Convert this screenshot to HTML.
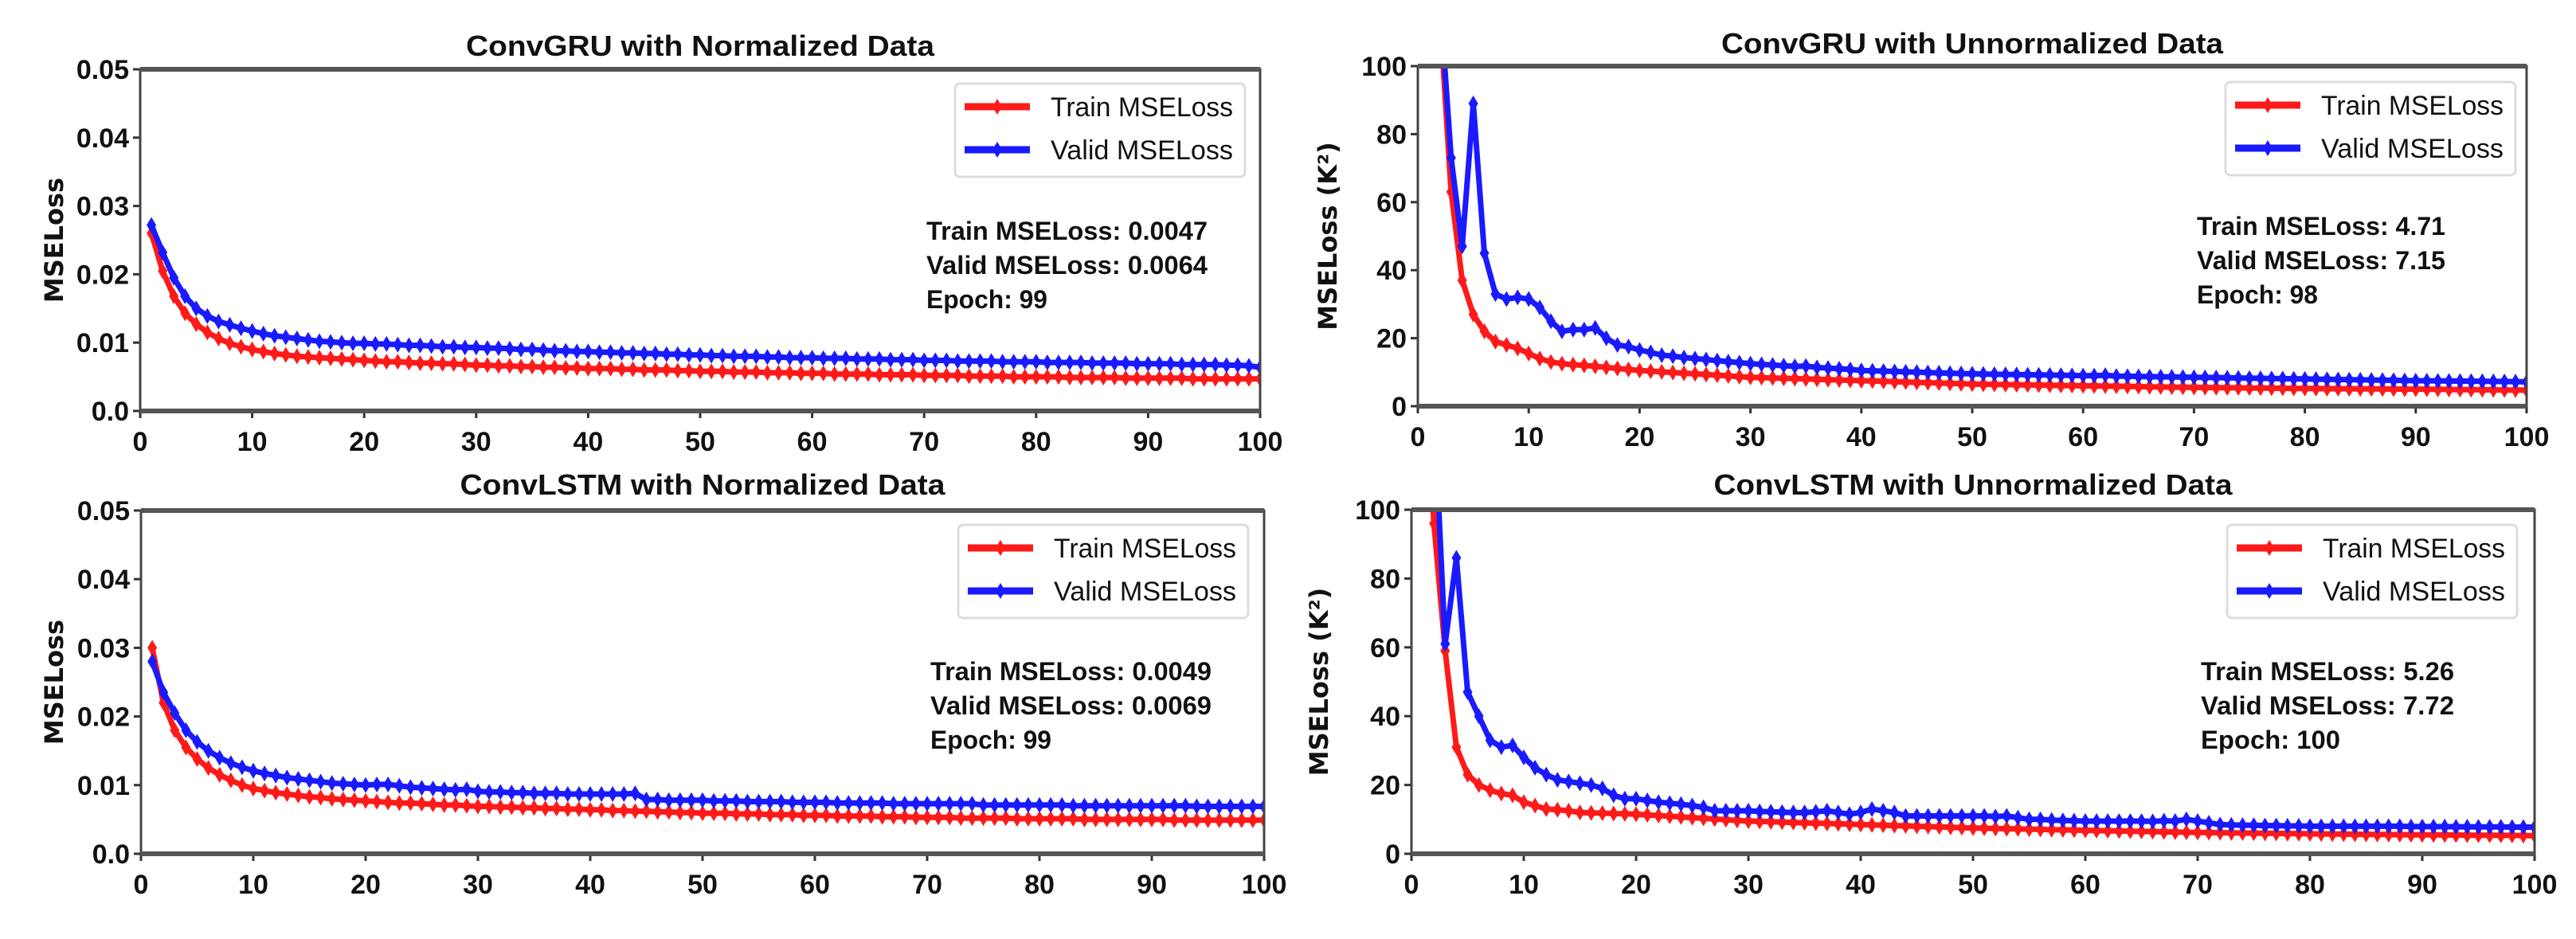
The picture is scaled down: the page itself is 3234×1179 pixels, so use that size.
<!DOCTYPE html>
<html><head><meta charset="utf-8"><style>
html,body{margin:0;padding:0;background:#fff;}
svg{display:block;}
text{font-family:"Liberation Sans",sans-serif;fill:#111;}
</style></head>
<body>
<svg id="fig" width="3234" height="1179" viewBox="0 0 3234 1179" xmlns="http://www.w3.org/2000/svg"></svg>
<script>
const xTicks = [0,10,20,30,40,50,60,70,80,90,100];
const yTicksNorm = [0.0,0.01,0.02,0.03,0.04,0.05];
const yTickLabelsNorm = ["0.0","0.01","0.02","0.03","0.04","0.05"];
const yTicksUn = [0,20,40,60,80,100];
const yTickLabelsUn = ["0","20","40","60","80","100"];

const gruNormTrain = [0.026,0.0205,0.0168,0.0143,0.0127,0.0115,0.0106,0.0099,0.0094,0.0090,
0.0087,0.0084,0.0082,0.0080,0.0079,0.0078,0.0077,0.0076,0.0075,0.0074,
0.0073,0.0072,0.0072,0.0071,0.0070,0.0070,0.0069,0.0069,0.0068,0.0067,
0.0067,0.0066,0.0066,0.0065,0.0065,0.0064,0.0064,0.0063,0.0063,0.0062,
0.0062,0.0062,0.0061,0.0061,0.0060,0.0060,0.0060,0.0059,0.0059,0.0058,
0.0058,0.0058,0.0057,0.0057,0.0057,0.0056,0.0056,0.0056,0.0055,0.0055,
0.0055,0.0054,0.0054,0.0054,0.0054,0.0053,0.0053,0.0053,0.0053,0.0052,
0.0052,0.0052,0.0052,0.0051,0.0051,0.0051,0.0051,0.0050,0.0050,0.0050,
0.0050,0.0050,0.0049,0.0049,0.0049,0.0049,0.0049,0.0048,0.0048,0.0048,
0.0048,0.0048,0.0048,0.0047,0.0047,0.0047,0.0047,0.0047,0.0047,0.0047];
const gruNormValid = [0.0272,0.0232,0.0195,0.0168,0.0150,0.0139,0.0131,0.0126,0.0121,0.0117,
0.0113,0.0110,0.0108,0.0106,0.0104,0.0102,0.0101,0.0100,0.0099,0.0099,
0.0098,0.0098,0.0097,0.0096,0.0096,0.0095,0.0094,0.0094,0.0093,0.0093,
0.0092,0.0092,0.0091,0.0090,0.0090,0.0089,0.0088,0.0088,0.0087,0.0087,
0.0086,0.0086,0.0085,0.0085,0.0084,0.0084,0.0083,0.0083,0.0082,0.0082,
0.0081,0.0081,0.0080,0.0080,0.0080,0.0079,0.0079,0.0078,0.0078,0.0078,
0.0077,0.0077,0.0077,0.0076,0.0076,0.0076,0.0075,0.0075,0.0075,0.0074,
0.0074,0.0074,0.0073,0.0073,0.0073,0.0073,0.0072,0.0072,0.0072,0.0072,
0.0071,0.0071,0.0071,0.0071,0.0070,0.0070,0.0070,0.0070,0.0069,0.0069,
0.0069,0.0069,0.0068,0.0068,0.0068,0.0068,0.0067,0.0067,0.0066,0.0064];
const gruUnTrain = [250,115,63,37,27,22,19,18,17,15.5,
14,13,12.5,12.2,12,11.7,11.4,11.1,10.8,10.5,
10.3,10.1,9.9,9.7,9.5,9.3,9.1,8.9,8.7,8.5,
8.4,8.3,8.2,8.1,8.0,7.9,7.8,7.7,7.6,7.5,
7.4,7.3,7.2,7.1,7.0,6.9,6.8,6.7,6.6,6.5,
6.45,6.4,6.35,6.3,6.25,6.2,6.15,6.1,6.05,6.0,
5.95,5.9,5.85,5.8,5.75,5.7,5.65,5.6,5.55,5.5,
5.47,5.44,5.41,5.38,5.35,5.32,5.29,5.26,5.23,5.2,
5.18,5.16,5.14,5.12,5.1,5.08,5.06,5.04,5.02,5.0,
4.97,4.94,4.91,4.88,4.85,4.82,4.79,4.76,4.73,4.71];
const gruUnValid = [250,120,73,47,89,45,33,31.5,32,31.5,
29,25,22,22.5,22.5,23,20,18,17.5,16.5,
15.8,15,14.7,14.3,14,13.7,13.4,13.1,12.8,12.5,
12.3,12.1,11.9,11.7,11.8,11.4,11.2,11,10.8,10.5,
10.4,10.3,10.2,10.1,10,9.9,9.8,9.7,9.6,9.5,
9.45,9.4,9.35,9.3,9.25,9.2,9.15,9.1,9.05,9.0,
8.95,9.1,8.85,8.8,8.75,8.7,8.65,8.6,8.55,8.5,
8.45,8.4,8.35,8.3,8.25,8.2,8.15,8.1,8.05,8.0,
7.95,7.9,7.85,7.8,7.75,7.7,7.65,7.6,7.55,7.5,
7.47,7.44,7.41,7.38,7.35,7.32,7.29,7.26,7.2,7.15];
const lstmNormTrain = [0.030,0.022,0.018,0.0155,0.0138,0.0125,0.0115,0.0107,0.0100,0.0095,
0.0092,0.0089,0.0087,0.0085,0.0083,0.0082,0.0080,0.0079,0.0078,0.0077,
0.0076,0.0075,0.0074,0.0074,0.0073,0.0072,0.0071,0.0071,0.0070,0.0069,
0.0069,0.0068,0.0068,0.0067,0.0067,0.0066,0.0066,0.0065,0.0065,0.0064,
0.0064,0.0063,0.0063,0.0062,0.0062,0.0061,0.0061,0.0060,0.0060,0.0059,
0.0059,0.0059,0.0058,0.0058,0.0058,0.0057,0.0057,0.0057,0.0056,0.0056,
0.0056,0.0055,0.0055,0.0055,0.0055,0.0054,0.0054,0.0054,0.0053,0.0053,
0.0053,0.0053,0.0052,0.0052,0.0052,0.0052,0.0052,0.0051,0.0051,0.0051,
0.0051,0.0051,0.0051,0.0050,0.0050,0.0050,0.0050,0.0050,0.0050,0.0050,
0.0050,0.0049,0.0049,0.0049,0.0049,0.0049,0.0049,0.0049,0.0049,0.0049];
const lstmNormValid = [0.028,0.0235,0.0205,0.018,0.0163,0.015,0.014,0.0132,0.0126,0.0121,
0.0117,0.0114,0.0111,0.0109,0.0107,0.0105,0.0103,0.0102,0.0101,0.0100,
0.0101,0.0101,0.0099,0.0097,0.0096,0.0095,0.0094,0.0093,0.0094,0.0091,
0.0090,0.0090,0.0089,0.0089,0.0088,0.0088,0.0088,0.0087,0.0087,0.0087,
0.0087,0.0087,0.0087,0.0088,0.0079,0.0079,0.0078,0.0078,0.0078,0.0078,
0.0077,0.0077,0.0077,0.0076,0.0076,0.0076,0.0076,0.0075,0.0075,0.0075,
0.0075,0.0074,0.0074,0.0074,0.0074,0.0074,0.0073,0.0073,0.0073,0.0073,
0.0073,0.0073,0.0073,0.0073,0.0071,0.0071,0.0071,0.0071,0.0071,0.0071,
0.0071,0.0071,0.0070,0.0070,0.0070,0.0070,0.0070,0.0070,0.0070,0.0070,
0.0070,0.0070,0.0070,0.0069,0.0069,0.0069,0.0069,0.0069,0.0069,0.0069];
const lstmUnTrain = [150,96,59,31,23,20,18.5,17.5,17,15,
14,13,12.8,12.5,12,11.9,11.8,11.7,11.6,11.5,
11.3,11.1,10.9,10.7,10.5,10.3,10.1,9.9,9.7,9.5,
9.4,9.3,9.2,9.1,9,8.9,8.8,8.7,8.6,8.5,
8.4,8.3,8.2,8.1,8,7.9,7.8,7.7,7.6,7.5,
7.43,7.36,7.29,7.22,7.15,7.08,7.01,6.94,6.87,6.8,
6.74,6.68,6.62,6.56,6.5,6.44,6.38,6.32,6.26,6.2,
6.16,6.12,6.08,6.04,6,5.96,5.92,5.88,5.84,5.8,
5.77,5.74,5.71,5.68,5.65,5.62,5.59,5.56,5.53,5.5,
5.48,5.46,5.44,5.42,5.4,5.38,5.35,5.32,5.29,5.26];
const lstmUnValid = [150,130,61,86,47,40,33,31,31.5,28,
25,23,21.5,21,20.5,20,19,17,16,16,
15.5,15,14.7,14.4,14,13.5,12.5,12.5,12.5,12.5,
12.3,12.2,12.1,12,12,12.2,12.5,12,11.5,12,
13,12.5,12,11,11,11,11,11,11,11,
11,10.8,11,10.5,10,10,9.8,9.7,9.6,9.5,
9.5,9.5,9.5,9.5,9.5,9.4,9.6,9.5,10,9.5,
9,8.5,8.4,8.3,8.3,8.2,8.2,8.1,8.1,8,
8,8,8,8,8,8,8,8,7.9,7.9,
7.9,7.9,7.85,7.85,7.8,7.8,7.8,7.75,7.75,7.72];

const panels = [
 {id:"gru-norm", title:"ConvGRU with Normalized Data", x0:176,x1:1582,yT:87,yB:516, yMax:0.05, yt:yTicksNorm, yl:yTickLabelsNorm, train:gruNormTrain, valid:gruNormValid, ylab:"MSELoss", ylx:68, lx:1199,ly:105, ax:1163, ay:289, ann:["Train MSELoss: 0.0047","Valid MSELoss: 0.0064","Epoch: 99"], annW:[353,353,152], tY:70},
 {id:"gru-unnorm", title:"ConvGRU with Unnormalized Data", x0:1780,x1:3172,yT:83,yB:510, yMax:100, yt:yTicksUn, yl:yTickLabelsUn, train:gruUnTrain, valid:gruUnValid, ylab:"MSELoss (K²)", ylx:1667, lx:2794,ly:103, ax:2758, ay:283, ann:["Train MSELoss: 4.71","Valid MSELoss: 7.15","Epoch: 98"], annW:[312,312,152], tY:67},
 {id:"lstm-norm", title:"ConvLSTM with Normalized Data", x0:177,x1:1587,yT:641,yB:1072, yMax:0.05, yt:yTicksNorm, yl:yTickLabelsNorm, train:lstmNormTrain, valid:lstmNormValid, ylab:"MSELoss", ylx:68, lx:1203,ly:659, ax:1168, ay:842, ann:["Train MSELoss: 0.0049","Valid MSELoss: 0.0069","Epoch: 99"], annW:[353,353,152], tY:621},
 {id:"lstm-unnorm", title:"ConvLSTM with Unnormalized Data", x0:1772,x1:3182,yT:640,yB:1072, yMax:100, yt:yTicksUn, yl:yTickLabelsUn, train:lstmUnTrain, valid:lstmUnValid, ylab:"MSELoss (K²)", ylx:1656, lx:2796,ly:659, ax:2763, ay:842, ann:["Train MSELoss: 5.26","Valid MSELoss: 7.72","Epoch: 100"], annW:[318,318,175], tY:621}
];

const NS="http://www.w3.org/2000/svg";
const svg=document.getElementById("fig");
function mk(tag,attrs,parent){const e=document.createElementNS(NS,tag);for(const k in attrs)e.setAttribute(k,attrs[k]);(parent||svg).appendChild(e);return e;}

panels.forEach(p=>{
  const g=mk("g",{});
  
  
  const sx=v=>p.x0+(v/100)*(p.x1-p.x0);
  const sy=v=>p.yB-(v/p.yMax)*(p.yB-p.yT);
  const cid="clip-"+p.id;
  const cp=mk("clipPath",{id:cid},g);
  mk("rect",{x:p.x0,y:p.yT,width:p.x1-p.x0,height:p.yB-p.yT},cp);

  const t=mk("text",{x:(p.x0+p.x1)/2,y:p.tY,"text-anchor":"middle","font-size":36,"font-weight":"bold",textLength:p.title.length*21,lengthAdjust:"spacingAndGlyphs"},g);
  t.textContent=p.title;
  
  

  xTicks.forEach(v=>{
    mk("line",{x1:sx(v),x2:sx(v),y1:p.yB,y2:p.yB+9,stroke:"#333","stroke-width":3},g);
    const tl=mk("text",{x:sx(v),y:p.yB+50,"text-anchor":"middle","font-size":34,"font-weight":"bold"},g);
    tl.textContent=String(v);
    
    
  });
  p.yt.forEach((v,i)=>{
    mk("line",{x1:p.x0-9,x2:p.x0,y1:sy(v),y2:sy(v),stroke:"#333","stroke-width":3},g);
    const tl=mk("text",{x:p.x0-14,y:sy(v)+12,"text-anchor":"end","font-size":34,"font-weight":"bold"},g);
    tl.textContent=p.yl[i];
    
    
  });
  const yl=mk("text",{x:0,y:0,"text-anchor":"middle","font-size":32,"font-weight":"bold",style:"font-family:'DejaVu Sans',sans-serif",transform:`translate(${p.ylx+11},${(p.yT+p.yB)/2}) rotate(-90)`},g);
  yl.textContent=p.ylab;
  
  

  const series=[{d:p.train,c:"#ff1a1a",n:"train"},{d:p.valid,c:"#1a1aff",n:"valid"}];
  series.forEach(s=>{
    const pts=s.d.map((v,i)=>sx(i+1).toFixed(1)+","+sy(v).toFixed(1)).join(" ");
    const pl=mk("polyline",{points:pts,fill:"none",stroke:s.c,"stroke-width":7,"stroke-linejoin":"round","clip-path":`url(#${cid})`},g);
    
    
    s.d.forEach((v,i)=>{
      const x=sx(i+1),y=sy(v);
      const m=mk("path",{d:`M${x-6},${y}L${x},${y-10}L${x+6},${y}L${x},${y+10}Z`,fill:s.c,"clip-path":`url(#${cid})`},g);
      
      
    });
  });

  const fr=mk("rect",{x:p.x0,y:p.yT,width:p.x1-p.x0,height:p.yB-p.yT,fill:"none",stroke:"#444","stroke-width":3},g);
  
  
  mk("line",{x1:p.x0,x2:p.x1,y1:p.yT,y2:p.yT,stroke:"#555","stroke-width":6},g);
  mk("line",{x1:p.x0,x2:p.x1,y1:p.yB,y2:p.yB,stroke:"#555","stroke-width":6},g);

  const lg=mk("g",{},g);
  
  
  mk("rect",{x:p.lx,y:p.ly,width:364,height:117,rx:6,fill:"#fff",stroke:"#ddd","stroke-width":3},lg);
  [["Train MSELoss","#ff1a1a"],["Valid MSELoss","#1a1aff"]].forEach((e,i)=>{
    const yy=p.ly+29+i*54;
    const ent=mk("g",{},lg);
    
    
    mk("line",{x1:p.lx+12,x2:p.lx+94,y1:yy,y2:yy,stroke:e[1],"stroke-width":9},ent);
    mk("path",{d:`M${p.lx+47},${yy}L${p.lx+53},${yy-10}L${p.lx+59},${yy}L${p.lx+53},${yy+10}Z`,fill:e[1]},ent);
    const tx=mk("text",{x:p.lx+120,y:yy+12,"font-size":34,textLength:229,lengthAdjust:"spacingAndGlyphs"},ent);
    tx.textContent=e[0];
  });

  p.ann.forEach((s,i)=>{
    const a=mk("text",{x:p.ax,y:p.ay+12+i*43,"font-size":32,"font-weight":"bold",textLength:p.annW[i],lengthAdjust:"spacingAndGlyphs"},g);
    a.textContent=s;
    
    
  });
});
</script>
</body></html>
